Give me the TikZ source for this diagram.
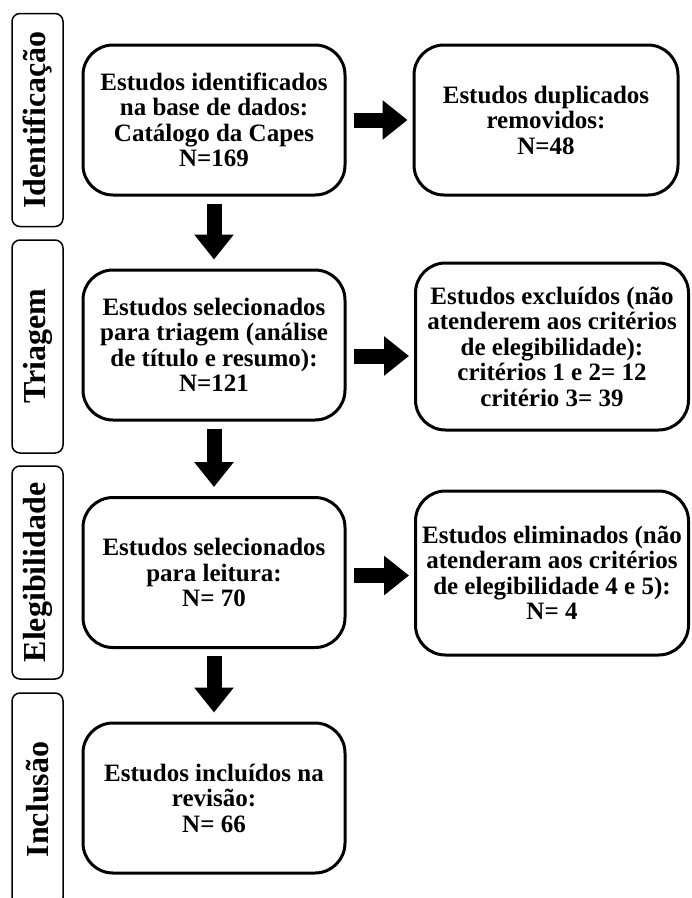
\documentclass[tikz,border=0pt]{standalone}
\usepackage{fontspec}
\setmainfont{Liberation Serif}
\usetikzlibrary{arrows.meta}
\begin{document}
\begin{tikzpicture}
    [
        x=1pt, y=-1pt,
        phase/.style = {draw, shape=rectangle, rounded corners=8pt, line width=1.5pt, rotate=90, minimum width=213pt, minimum height=51pt, inner sep=0pt, font=\fontsize{32}{34}\selectfont\bfseries},
        stage/.style = {draw, shape=rectangle, rounded corners=30pt, line width=3pt, minimum width=262pt, minimum height=150pt, inner sep=0pt, align=center, font=\fontsize{25}{25.5}\selectfont\bfseries},
        fat/.style = {line width=15pt, -{Triangle[length=25pt, width=38pt]}, shorten <=7pt, shorten >=9pt},
    ]

    \useasboundingbox (0,0) rectangle (692,898);
    \clip (0,0) rectangle (692,898);

    \node[phase] (pid)  at (37.5,120)   {Identificação};
    \node[phase] (ptri) at (37.5,346.5) {Triagem};
    \node[phase] (pele) at (37.5,572.5) {Elegibilidade};
    \node[phase] (pinc) at (37.5,799.5) {Inclusão};

    \node[stage] (ident) at (214,120) {Estudos identificados\\na base de dados:\\Catálogo da Capes\\N=169};
    \node[stage, minimum width=264pt] (dupl) at (546,120) {Estudos duplicados\\removidos:\\N=48};

    \node[stage] (triag) at (214,345) {Estudos selecionados\\para triagem (análise\\de título e resumo):\\N=121};
    \node[stage, minimum width=273pt, minimum height=167pt] (excl) at (552,346.5) {Estudos excluídos (não\\atenderem aos critérios\\de elegibilidade):\\critérios 1 e 2= 12\\critério 3= 39};

    \node[stage] (leit) at (214,572.5) {Estudos selecionados\\para leitura:\\N= 70};
    \node[stage, minimum width=273pt, minimum height=164pt] (elim) at (552,573) {Estudos eliminados (não\\atenderam aos critérios\\de elegibilidade 4 e 5):\\N= 4};

    \node[stage] (incl) at (214,798) {Estudos incluídos na\\revisão:\\N= 66};

    \draw [fat] (ident.south) -- (triag.north);
    \draw [fat] (triag.south) -- (leit.north);
    \draw [fat] (leit.south) -- (incl.north);

    \draw [fat, shorten >=5pt] (ident.east) -- (dupl.west);
    \draw [fat, shorten >=5pt] ([yshift=-11pt]triag.east) -- ([yshift=-11pt]triag.east -| excl.west);
    \draw [fat, shorten >=5pt] ([yshift=-3pt]leit.east) -- ([yshift=-3pt]leit.east -| elim.west);
\end{tikzpicture}
\end{document}
